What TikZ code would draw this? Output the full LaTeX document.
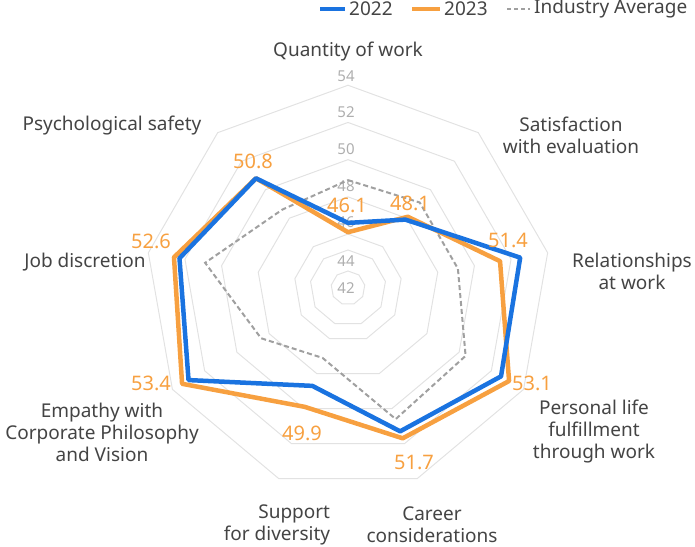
\documentclass[tikz,border=0pt]{standalone}
\usepackage{fontspec}
\setmainfont{Noto Sans}
\usetikzlibrary{positioning}
\definecolor{c22}{HTML}{1A73E0}
\definecolor{c23}{HTML}{F7A040}
\definecolor{cind}{HTML}{A0A0A0}
\definecolor{cgrid}{HTML}{E2E2E2}
\definecolor{ctxt}{HTML}{444444}
\newcommand{\rv}[1]{((#1-43.1)*18.6)}
\begin{document}
\begin{tikzpicture}[x=1pt,y=1pt,
	axislbl/.style={text=ctxt,font=\fontsize{19}{22}\selectfont,align=center,inner sep=0pt},
	vallbl/.style={text=c23,font=\fontsize{20}{22}\selectfont,inner sep=0pt},
	ringlbl/.style={text=cind!85,font=\fontsize{15}{17}\selectfont,inner sep=0pt},
	series/.style={line width=4.5pt,line join=round}]
	\useasboundingbox (-348,288) rectangle (347,-258);

	%% grid
	\foreach \g in {46,48,...,54}
		\draw[cgrid,line width=1pt] (90:{\rv{\g}}) \foreach \i in {1,...,8} { -- ({90-40*\i}:{\rv{\g}}) } -- cycle;
	\foreach \r in {38,17}
		\draw[cgrid,line width=1pt] (90:\r) \foreach \i in {1,...,8} { -- ({90-40*\i}:\r) } -- cycle;
	\foreach \g/\y in {54/212,52/176,50/139,48/102,46/66,44/27,42/0}
		\node[ringlbl] (r\g) at (-2,\y) {\g};

	%% series
	\draw[cind,line width=2pt,dash pattern=on 5pt off 3pt] (90:{\rv{48.9}})
		\foreach \v [count=\i] in {49.1,49.1,50.4,50.6,47.1,48.5,50.9,48.6} { -- ({90-40*\i}:{\rv{\v}}) } -- cycle;
	\draw[series,c23] (90:{\rv{46.1}})
		\foreach \v [count=\i] in {48.1,51.4,53.1,51.7,49.9,53.4,52.6,50.8} { -- ({90-40*\i}:{\rv{\v}}) } -- cycle;
	\draw[series,c22] (90:{\rv{46.6}})
		\foreach \v [count=\i] in {47.9,52.5,52.6,51.3,48.7,53.0,52.3,50.8} { -- ({90-40*\i}:{\rv{\v}}) } -- cycle;

	%% value labels
	\node[vallbl] (v1) at (-1,83) {46.1};
	\node[vallbl] (v2) at (62,85) {48.1};
	\node[vallbl] (v3) at (160,48) {51.4};
	\node[vallbl] (v4) at (184,-95) {53.1};
	\node[vallbl] (v5) at (66,-174) {51.7};
	\node[vallbl] (v6) at (-46,-145) {49.9};
	\node[vallbl] (v7) at (-197,-95) {53.4};
	\node[vallbl] (v8) at (-197,47) {52.6};
	\node[vallbl] (v9) at (-95,127) {50.8};

	%% axis labels
	\node[axislbl] (a1) at (0,236) {Quantity of work};
	\node[axislbl] (a2) at (223,153) {Satisfaction\\with evaluation};
	\node[axislbl] (a3) at (284,17) {Relationships\\at work};
	\node[axislbl] (a4) at (246,-144) {Personal life\\fulfillment\\through work};
	\node[axislbl] (a5) at (84,-237) {Career\\considerations};
	\node[axislbl,align=right] (a6) at (-71,-237) {Support\\for diversity};
	\node[axislbl] (a7) at (-246,-144) {Empathy with\\Corporate Philosophy\\and Vision};
	\node[axislbl] (a8) at (-263,26) {Job discretion};
	\node[axislbl] (a9) at (-236,162) {Psychological safety};

	%% legend
	\coordinate (l1a) at (-28,279);
	\coordinate (l1b) at (-3,279);
	\draw[c22,line width=4pt] (l1a) -- (l1b);
	\node[axislbl,right=4pt of l1b] (l1) {2022};
	\coordinate (l2a) at (64,279);
	\coordinate (l2b) at (92,279);
	\draw[c23,line width=4pt] (l2a) -- (l2b);
	\node[axislbl,right=4pt of l2b] (l2) {2023};
	\coordinate (l3a) at (159,279);
	\coordinate (l3b) at (182,279);
	\draw[cind,line width=2pt,dash pattern=on 4pt off 3pt] (l3a) -- (l3b);
	\node[axislbl,right=4pt of l3b] (l3) {Industry Average};
\end{tikzpicture}
\end{document}
